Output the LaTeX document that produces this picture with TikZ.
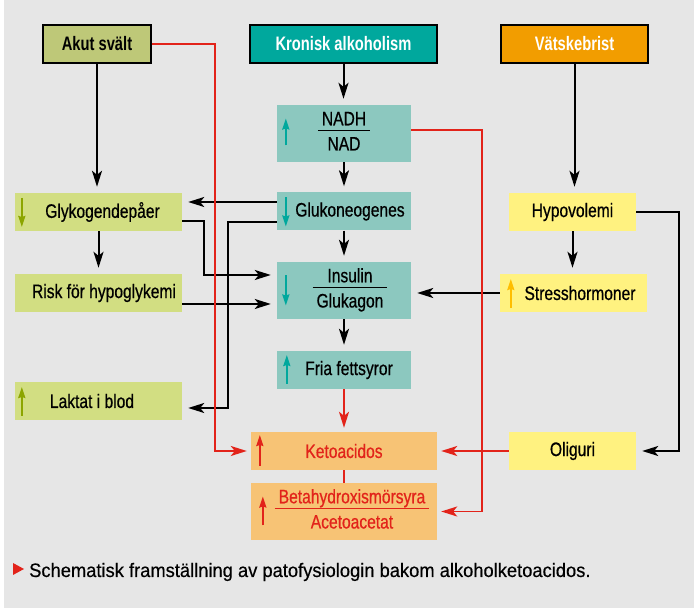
\documentclass[tikz,border=0pt]{standalone}
\usepackage{fontspec}
\setmainfont{Liberation Sans}[FakeStretch=0.8, FakeBold=0.6]
\newfontfamily\rubrikfont{Liberation Sans}[FakeStretch=0.755]
\newfontfamily\bildtextfont{Liberation Sans}[FakeStretch=0.94, FakeBold=0.4]
\usetikzlibrary{arrows.meta}

\definecolor{bakgrund}{RGB}{230,230,230}
\definecolor{oliv}{RGB}{190,200,120}
\definecolor{turkos}{RGB}{0,168,157}
\definecolor{vatskeorange}{RGB}{242,157,0}
\definecolor{ljusturkos}{RGB}{140,200,191}
\definecolor{ljusgron}{RGB}{210,222,130}
\definecolor{ljusgul}{RGB}{255,242,128}
\definecolor{ljusorange}{RGB}{247,195,117}
\definecolor{rod}{RGB}{226,35,26}
\definecolor{olivpil}{RGB}{140,165,0}
\definecolor{gulpil}{RGB}{255,190,0}

\setlength{\arrayrulewidth}{1.2pt}
\newcommand{\kvot}[2]{\begin{tabular}{@{\hspace{4pt}}c@{\hspace{4pt}}}#1\\[-1.6pt]\hline\rule{0pt}{19pt}#2\end{tabular}}

\tikzset{
  ruta/.style={minimum height=38pt, inner sep=0pt, font=\fontsize{19.5}{22}\selectfont},
  hog/.style={minimum height=57pt},
  rubrik/.style={ruta, draw=black, line width=1.2pt, text=white, font=\rubrikfont\bfseries\fontsize{19.5}{22}\selectfont},
  pil/.style={line width=2pt, -{Stealth[length=16pt,width=10pt,inset=4pt]}, shorten >=6pt},
  rodpil/.style={pil, draw=rod, line width=1.8pt, shorten >=4pt},
  litenpil/.style={line width=1.8pt, -{Stealth[length=11pt,width=7pt,inset=1pt]}},
}

\begin{document}
\begin{tikzpicture}[x=1pt, y=1pt]
  \fill[white] (0,0) rectangle (694,608);
  \fill[bakgrund] (4,0) rectangle (694,608);
  \useasboundingbox (0,0) rectangle (694,608);

  % rubriker
  \node[rubrik, fill=oliv, text=black, minimum width=108pt] (akut) at (97,564) {Akut svält};
  \node[rubrik, fill=turkos, minimum width=187pt] (kronisk) at (343.5,564) {Kronisk alkoholism};
  \node[rubrik, fill=vatskeorange, minimum width=147pt] (vatske) at (574.5,564) {Vätskebrist};

  % mitten
  \node[ruta, hog, fill=ljusturkos, minimum width=134pt] (nadh) at (344,474.5) {\kvot{NADH}{NAD}};
  \node[ruta, fill=ljusturkos, minimum width=134pt] (gluko) at (344,396.5) {\hspace*{12pt}Glukoneogenes};
  \node[ruta, hog, fill=ljusturkos, minimum width=134pt] (insulin) at (344,317.5) {\hspace*{12pt}\kvot{Insulin}{Glukagon}};
  \node[ruta, fill=ljusturkos, minimum width=134pt] (fria) at (344,238) {\hspace*{10pt}Fria fettsyror};
  \node[ruta, fill=ljusorange, text=rod, minimum width=186pt] (keto) at (344,157) {Ketoacidos};
  \node[ruta, hog, fill=ljusorange, text=rod, minimum width=186pt] (beta) at (344,96.5) {\hspace*{16pt}\kvot{Betahydroxismörsyra}{Acetoacetat}};

  % vänster
  \node[ruta, fill=ljusgron, minimum width=167pt] (glykogen) at (98.5,396) {\hspace*{8pt}Glykogendepåer};
  \node[ruta, fill=ljusgron, minimum width=167pt] (risk) at (98.5,315) {\hspace*{11pt}Risk för hypoglykemi};
  \node[ruta, fill=ljusgron, minimum width=167pt] (laktat) at (98.5,207) {Laktat i blod\hspace*{13pt}};

  % höger
  \node[ruta, fill=ljusgul, minimum width=127pt] (hypo) at (572.5,396) {Hypovolemi};
  \node[ruta, fill=ljusgul, minimum width=147pt] (stress) at (573.5,315) {\hspace*{13pt}Stresshormoner};
  \node[ruta, fill=ljusgul, minimum width=127pt] (oliguri) at (572.5,157) {Oliguri};

  % små pilar
  \draw[litenpil, turkos] ([xshift=9pt]nadh.west) ++(0,-12) -- ++(0,27);
  \draw[litenpil, turkos] ([xshift=9pt]gluko.west) ++(0,14) -- ++(0,-29);
  \draw[litenpil, turkos] ([xshift=9pt]insulin.west) ++(0,15) -- ++(0,-30);
  \draw[litenpil, turkos] ([xshift=10pt]fria.west) ++(0,-14) -- ++(0,29);
  \draw[litenpil, olivpil] ([xshift=7pt]glykogen.west) ++(0,14) -- ++(0,-29);
  \draw[litenpil, olivpil] ([xshift=7pt]laktat.west) ++(0,-15) -- ++(0,29);
  \draw[litenpil, gulpil] ([xshift=11pt]stress.west) ++(0,-15) -- ++(0,29);
  \draw[litenpil, rod] ([xshift=9pt]keto.west) ++(0,-15) -- ++(0,31);
  \draw[litenpil, rod] ([xshift=12pt]beta.west) ++(0,-14) -- ++(0,29);

  % svarta pilar
  \draw[pil] (akut.south) -- (akut.south |- glykogen.north);
  \draw[pil] (glykogen.south) -- (glykogen.south |- risk.north);
  \draw[pil] (kronisk.south) -- (kronisk.south |- nadh.north);
  \draw[pil] (nadh.south) -- (gluko.north);
  \draw[pil] (gluko.south) -- (insulin.north);
  \draw[pil] (insulin.south) -- (fria.north);
  \draw[pil] ([yshift=9.5pt]gluko.west) -- ([yshift=9.5pt]gluko.west -| glykogen.east);
  \draw[pil] ([yshift=-10.5pt]gluko.west) -- ++(-49,0) |- ([yshift=-7pt]laktat.east);
  \draw[pil] ([yshift=-9pt]glykogen.east) -- ++(22,0) |- ([yshift=15.5pt]insulin.west);
  \draw[pil] ([yshift=-11pt]risk.east) -- ([yshift=-11pt]risk.east -| insulin.west);
  \draw[pil] (stress.west) -- (stress.west -| insulin.east);
  \draw[pil] (vatske.south) -- (vatske.south |- hypo.north);
  \draw[pil] (hypo.south) -- (hypo.south |- stress.north);
  \draw[pil] (hypo.east) -- ++(43,0) |- (oliguri.east);

  % röda pilar
  \draw[rodpil] (fria.south) -- (keto.north);
  \draw[draw=rod, line width=1.8pt] (keto.south) -- (beta.north);
  \draw[rodpil] (akut.east) -| ([xshift=-36pt]keto.west) -- (keto.west);
  \draw[rodpil] (oliguri.west) -- (keto.east);
  \draw[rodpil] ([yshift=3.5pt]nadh.east) -- ++(71,0) |- (beta.east);

  % bildtext
  \node[anchor=base west, inner sep=0pt, font=\bildtextfont\fontsize{19.5}{22}\selectfont] (bildtext) at (29,31)
    {Schematisk framställning av patofysiologin bakom alkoholketoacidos.};
  \fill[rod] ([xshift=-16pt,yshift=2pt]bildtext.base west) -- ++(0,12) -- ++(11,-6) -- cycle;
\end{tikzpicture}
\end{document}
